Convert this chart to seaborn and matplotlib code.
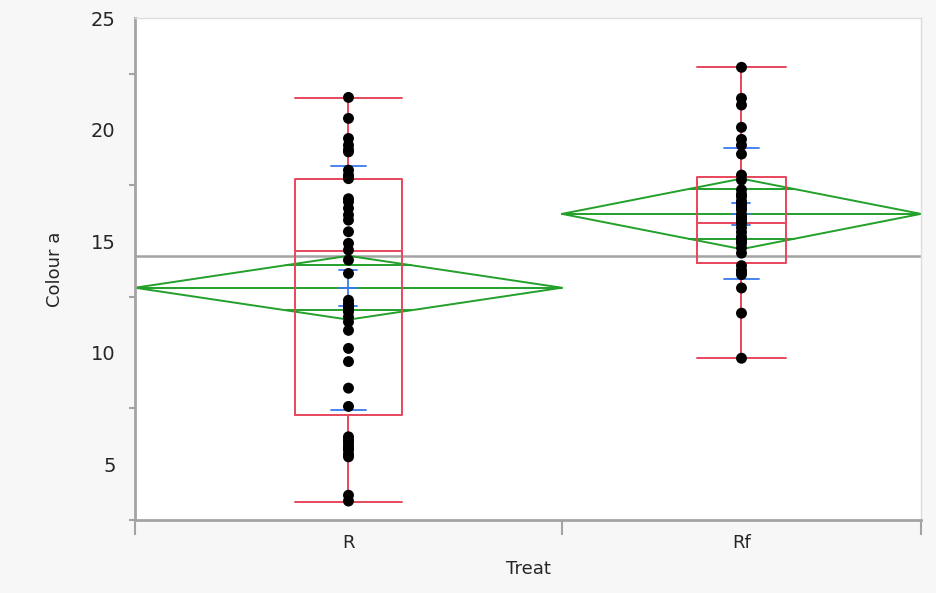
import numpy as np
import pandas as pd
import seaborn as sns
import matplotlib.pyplot as plt
from matplotlib.ticker import MultipleLocator, FixedLocator, NullFormatter

# values
groups = ["R", "Rf"]
group_n = [44, 37]

r_values = [21.44, 20.5, 19.6, 19.3, 19.0, 18.18, 17.96, 17.8, 16.76, 16.47, 16.17,
            15.94, 15.42, 14.9, 14.15, 13.55, 12.35, 12.2, 12.0, 11.83, 11.6, 11.38,
            11.0, 10.19, 9.6, 8.41, 7.59, 6.23, 6.05, 5.93, 5.78, 5.63, 5.45, 5.33,
            3.61, 3.35, 16.9, 17.85, 14.6, 12.1, 11.95, 6.1, 5.7, 19.1]
rf_values = [22.79, 21.4, 21.1, 20.1, 19.56, 19.3, 18.9, 17.96, 17.74, 17.3, 17.0,
             16.8, 16.6, 16.4, 16.2, 16.0, 15.8, 15.6, 15.4, 15.2, 15.0, 14.9,
             14.46, 13.9, 13.7, 13.5, 12.9, 11.77, 9.75, 16.7, 16.1, 15.9, 17.1,
             14.7, 13.6, 16.5, 15.1]

means = [12.91, 16.22]
ci_half = [1.43, 1.58]
std_dev = [5.47, 2.94]
std_err = [0.8, 0.5]
q1 = [7.2, 14.0]
median = [14.55, 15.8]
q3 = [17.8, 17.87]
whisker_lo = [3.3, 9.75]
whisker_hi = [21.4, 22.8]
grand_mean = 14.35

red = "#e8465c"
green = "#22a02a"
blue = "#3a78f0"
grey = "#a3a3a3"
text_col = "#262626"

edges = np.concatenate([[0], np.cumsum(group_n)])
centers = (edges[:-1] + edges[1:]) / 2
widths = np.array(group_n, dtype=float)

df = pd.DataFrame({
    "Treat": ["R"] * len(r_values) + ["Rf"] * len(rf_values),
    "Colour a": r_values + rf_values,
})
df["xpos"] = df["Treat"].map(dict(zip(groups, centers)))

sns.set_style("white")
fig = plt.figure(figsize=(9.36, 5.93), dpi=100, facecolor="#f7f7f7")
ax = fig.add_axes([135 / 936, 1 - 520 / 593, 786 / 936, 502 / 593])
ax.set_facecolor("white")

# grand mean
ax.axhline(grand_mean, color=grey, lw=1.8, zorder=1)

for i in range(len(groups)):
    c, w, m, h = centers[i], widths[i], means[i], ci_half[i]
    l, r = edges[i], edges[i + 1]
    # mean diamond
    ax.plot([l, c, r, c, l], [m, m + h, m, m - h, m], color=green, lw=1.4, zorder=2)
    ax.plot([l, r], [m, m], color=green, lw=1.4, zorder=2)
    ov = h / np.sqrt(2)
    hw = (1 - 1 / np.sqrt(2)) * w / 2
    for s in (1, -1):
        ax.plot([c - hw, c + hw], [m + s * ov, m + s * ov], color=green, lw=1.4, zorder=2)

# box plots
stats = [dict(med=median[i], q1=q1[i], q3=q3[i], whislo=whisker_lo[i],
              whishi=whisker_hi[i], fliers=[]) for i in range(len(groups))]
props = dict(color=red, lw=1.4)
ax.bxp(stats, positions=centers, widths=widths * 0.25, showfliers=False,
       boxprops=props, medianprops=props, whiskerprops=props, capprops=props,
       capwidths=widths * 0.25, manage_ticks=False, zorder=3)

# mean error bars and std dev lines
px = 786 / edges[-1]
for i in range(len(groups)):
    c, m = centers[i], means[i]
    sd_hw = 17.5 / px
    se_hw = 9 / px
    for s in (1, -1):
        ax.plot([c - sd_hw, c + sd_hw], [m + s * std_dev[i]] * 2, color=blue, lw=1.3, zorder=4)
        ax.plot([c - se_hw, c + se_hw], [m + s * std_err[i]] * 2, color=blue, lw=1.3, zorder=4)
    ax.plot([c - se_hw, c + se_hw], [m, m], color=blue, lw=1.3, zorder=4)
    ax.plot([c, c], [m - std_err[i], m + std_err[i]], color=blue, lw=1.3, zorder=4)

sns.scatterplot(data=df, x="xpos", y="Colour a", color="black", s=62,
                edgecolor="none", ax=ax, zorder=5, legend=False)

ax.set_xlim(edges[0], edges[-1])
ax.set_ylim(2.5, 25)
ax.yaxis.set_major_locator(MultipleLocator(5))
ax.yaxis.set_minor_locator(MultipleLocator(2.5))
ax.xaxis.set_major_locator(FixedLocator(edges))
ax.xaxis.set_major_formatter(NullFormatter())
ax.xaxis.set_minor_locator(FixedLocator(centers))
ax.set_xticklabels(groups, minor=True)

ax.tick_params(axis="y", which="major", length=9, width=1.5, color=grey,
               labelsize=14, pad=5, labelcolor=text_col)
ax.tick_params(axis="y", which="minor", length=4.5, width=1.5, color=grey, left=True)
ax.tick_params(axis="x", which="major", length=11, width=1.5, color=grey, bottom=True)
ax.tick_params(axis="x", which="minor", length=0, labelsize=13, pad=10,
               labelcolor=text_col)

for side in ["left", "bottom"]:
    ax.spines[side].set_color(grey)
    ax.spines[side].set_linewidth(2)
for side in ["top", "right"]:
    ax.spines[side].set_color("#dddddd")
    ax.spines[side].set_linewidth(1)

ax.set_xlabel("Treat", fontsize=13, color=text_col, labelpad=6)
ax.set_ylabel("Colour a", fontsize=13, color=text_col, labelpad=19)

fig.savefig("out.png", dpi=100, facecolor=fig.get_facecolor())
